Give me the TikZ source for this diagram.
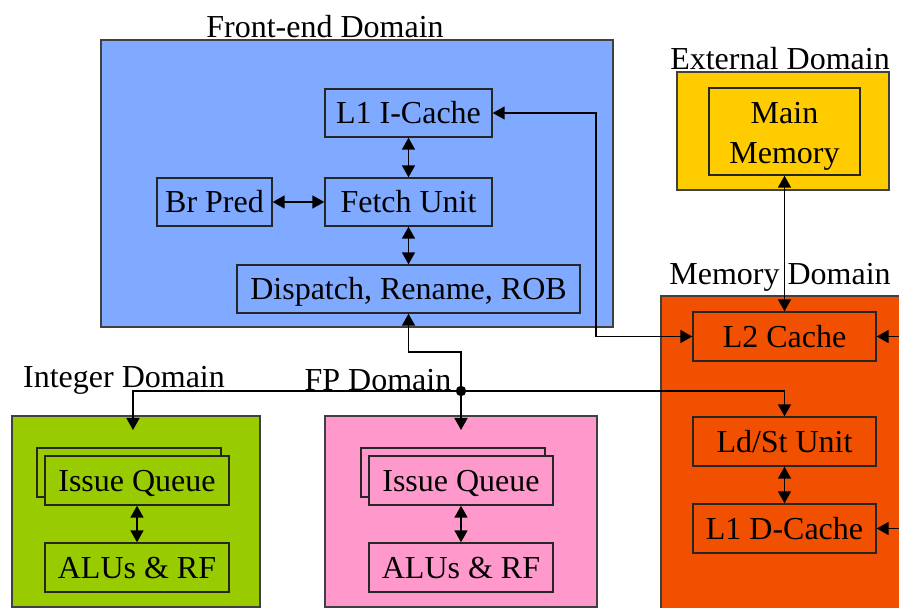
\documentclass[tikz,border=0pt]{standalone}
\usepackage{fontspec}
\setmainfont{Liberation Serif}
\usetikzlibrary{arrows.meta}
\definecolor{frontblue}{RGB}{128,170,255}
\definecolor{extyellow}{RGB}{255,204,0}
\definecolor{memorange}{RGB}{240,80,0}
\definecolor{intgreen}{RGB}{153,204,0}
\definecolor{fppink}{RGB}{255,153,204}
\begin{document}
\begin{tikzpicture}[x=0.5pt,y=-0.5pt,font=\fontsize{16}{20}\selectfont,
	dombox/.style={draw=black!75,line width=0.8pt},
	unit/.style={draw=black!85,line width=0.7pt,inner sep=0pt,minimum height=24.5pt,align=center,text height=10.6pt,text depth=0pt},
	tip/.style={line width=0.8pt,-{Triangle[length=6pt,width=6.5pt]}},
	link/.style={line width=0.8pt,{Triangle[length=6pt,width=6.5pt]}-{Triangle[length=6pt,width=6.5pt]}}]
	\useasboundingbox (0,0) rectangle (899,608);
	% domains
	\draw[dombox,fill=frontblue] (101,40) rectangle (613,327);
	\draw[dombox,fill=extyellow] (677,72) rectangle (889,190);
	\draw[dombox,fill=memorange] (661,296) rectangle (910,620);
	\draw[dombox,fill=intgreen] (12,416) rectangle (260,607);
	\draw[dombox,fill=fppink] (325,416) rectangle (597,607);
	\draw (325,27)node(tfront){Front-end Domain} (780,59)node(text){External Domain}
	(780,277)node(tmem){Memory Domain} (124,380)node(tint){Integer Domain} (378,380)node(tfp){FP Domain};
	% front-end
	\node[unit,minimum width=83.5pt,minimum height=24pt] (l1i) at (408.5,113) {L1 I-Cache};
	\node[unit,minimum width=83.5pt,minimum height=24pt] (fetch) at (408.5,202) {Fetch Unit};
	\node[unit,minimum width=57.5pt,minimum height=24pt] (brpred) at (214.5,202) {Br Pred};
	\node[unit,minimum width=171.5pt,minimum height=24pt] (dispatch) at (408.5,289) {Dispatch, Rename, ROB};
	% external and memory
	\node[unit,minimum width=75.5pt,minimum height=43.5pt,text height=32pt] (mainmem) at (784.5,131.5) {Main\\Memory};
	\node[unit,minimum width=91.5pt] (l2) at (784.5,336.5) {L2 Cache};
	\node[unit,minimum width=91.5pt] (ldst) at (784.5,441.5) {Ld/St Unit};
	\node[unit,minimum width=91.5pt] (l1d) at (784.5,528.5) {L1 D-Cache};
	% execution clusters
	\foreach \cx/\clr/\nm in {137/intgreen/int,461/fppink/fp}{
		\draw[unit] (\cx-100,448) rectangle (\cx+84,497);
		\node[unit,fill=\clr,minimum width=92pt] (iq\nm) at (\cx,480.5) {Issue Queue};
		\node[unit,minimum width=92pt] (alu\nm) at (\cx,567.5) {ALUs \& RF};
		\draw[link] (iq\nm) -- (alu\nm);
	}
	% connectors
	\draw[link] (l1i) -- (fetch);
	\draw[link] (fetch) -- (dispatch);
	\draw[link] (brpred) -- (fetch);
	\draw[link] (mainmem) -- (l2);
	\draw[link] (ldst) -- (l1d);
	\coordinate (bend) at (596,113);
	\draw[link] (l1i.east) -- (bend) |- (l2.west);
	\coordinate (fork) at (461,391);
	\coordinate (intin) at (133,430);
	\coordinate (fpin) at (461,430);
	\coordinate (east1) at (899,336.5);
	\coordinate (east2) at (899,528.5);
	\draw[tip] (fork) -- ++(0,-39) -| (dispatch.south);
	\draw[tip] (fork) -| (intin);
	\draw[tip] (fork) -- (fpin);
	\draw[tip] (fork) -| (ldst.north);
	\fill (fork) circle (2.6pt);
	\draw[tip] (east1) -- (l2.east);
	\draw[tip] (east2) -- (l1d.east);
\end{tikzpicture}
\end{document}
